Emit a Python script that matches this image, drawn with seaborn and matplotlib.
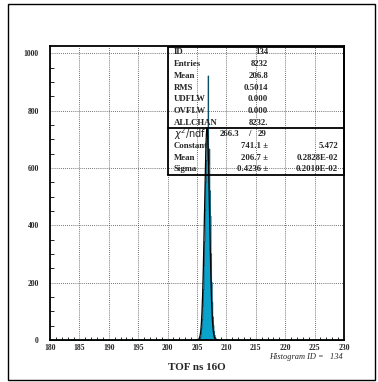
import numpy as np
import pandas as pd
import matplotlib
matplotlib.use("Agg")
import matplotlib.pyplot as plt
import seaborn as sns
from matplotlib.patches import Rectangle
from matplotlib.lines import Line2D

# ---- histogram contents (TOF, 0.1 ns bins from 180 to 230) ----
bin_lo, bin_hi, n_bins = 180.0, 230.0, 500
filled_centers = [204.6, 204.9, 205.1, 205.2,
                  205.3, 205.4, 205.5, 205.6, 205.7, 205.8, 205.9, 206.0,
                  206.1, 206.2, 206.3, 206.4, 206.5, 206.6, 206.7, 206.8,
                  206.9, 207.0, 207.1, 207.2, 207.3, 207.4, 207.5, 207.6,
                  207.7, 207.8, 207.9, 208.0, 208.1, 208.2, 208.5, 209.9, 210.1]
filled_counts = [1, 2, 2, 3,
                 4, 7, 12, 24, 43, 72, 120, 178,
                 262, 345, 455, 552, 628, 694, 706, 923,
                 615, 668, 522, 433, 302, 202, 132, 82,
                 52, 31, 18, 10, 6, 3, 2, 3, 4]

# ---- fit result and statistics ----
fit_const, fit_mean, fit_sigma = 741.1, 206.7, 0.4236
stat_labels = ["ID", "Entries", "Mean", "RMS", "UDFLW", "OVFLW", "ALLCHAN"]
stat_values = ["134", "8232", "206.8", "0.5014", "0.000", "0.000", "8232."]
fit_labels = ["Constant", "Mean", "Sigma"]
fit_values = ["741.1", "206.7", "0.4236"]
fit_errors = ["5.472", "0.2828E-02", "0.2010E-02"]
chi2_text, ndf_text = "266.3", "29"

x_ticks = list(range(180, 231, 5))
y_ticks = list(range(0, 1001, 200))

sns.set_style("white")
plt.rcParams["font.family"] = ["Liberation Serif", "DejaVu Serif"]

W, H = 378, 382
fig = plt.figure(figsize=(W / 100, H / 100), dpi=100)

def fx(px):
    return px / W

def fy(py):
    return 1 - py / H

ax_l, ax_r, ax_t, ax_b = 50, 344, 46, 340
ax = fig.add_axes([fx(ax_l), fy(ax_b), fx(ax_r - ax_l), (ax_b - ax_t) / H])

df = pd.DataFrame({"tof": filled_centers, "n": filled_counts})
sns.histplot(data=df, x="tof", weights="n", bins=n_bins,
             binrange=(bin_lo, bin_hi), element="step",
             fill=True, color="#0aa3cc", alpha=1.0, edgecolor="#0a4f66",
             linewidth=0.6, ax=ax, zorder=2)

# gaussian fit curve
xf = np.linspace(204.8, 208.6, 400)
yf = fit_const * np.exp(-0.5 * ((xf - fit_mean) / fit_sigma) ** 2)
ax.plot(xf, yf, color="black", lw=0.9, zorder=3)

ax.set_xlim(bin_lo, bin_hi)
ax.set_ylim(0, 1026)
ax.set_xlabel("")
ax.set_ylabel("")

ax.set_xticks(x_ticks)
ax.set_xticks(np.arange(180, 231, 1), minor=True)
ax.set_yticks(y_ticks)
ax.set_yticks(np.arange(0, 1001, 50), minor=True)
ax.set_xticklabels([str(v) for v in x_ticks], fontsize=5.5, fontweight="bold")
ax.set_yticklabels([str(v) for v in y_ticks], fontsize=5.5, fontweight="bold")
ax.tick_params(axis="x", which="major", direction="in", length=5, width=0.8,
               pad=3, color="black")
ax.tick_params(axis="x", which="minor", direction="in", length=2.5, width=0.6,
               color="black", bottom=True)
ax.tick_params(axis="y", which="major", direction="in", length=6, width=0.8,
               pad=8, color="black")
ax.tick_params(axis="y", which="minor", direction="in", length=3, width=0.6,
               color="black", left=True)
ax.grid(True, which="major", color="#444444", linestyle=(0, (1, 1.5)),
        linewidth=0.6, zorder=0)
ax.set_axisbelow(True)
for s in ax.spines.values():
    s.set_visible(True)
    s.set_color("black")
    s.set_linewidth(1.3)

# outer frame
fig.patches.append(Rectangle((fx(8), fy(380)), fx(367), (380 - 4) / H,
                             transform=fig.transFigure, fill=False,
                             edgecolor="black", lw=1.0))

# statistics box
bx_l, bx_r, bx_t, bx_mid, bx_b = 168, 344, 46.5, 128.5, 175
for pts in ([(bx_l, bx_t), (bx_l, bx_b)], [(bx_l, bx_b), (bx_r, bx_b)],
            [(bx_l, bx_mid), (bx_r, bx_mid)], [(bx_r, bx_t), (bx_r, bx_b)],
            [(bx_l, bx_t), (bx_r, bx_t)]):
    fig.lines.append(Line2D([fx(p[0]) for p in pts], [fy(p[1]) for p in pts],
                            transform=fig.transFigure, color="black", lw=1.3))

row_h = (bx_mid - bx_t) / 7
tkw = dict(fontsize=6.3, fontweight="bold", va="center", transform=fig.transFigure)
for i, (lab, val) in enumerate(zip(stat_labels, stat_values)):
    yy = fy(bx_t + row_h * (i + 0.5))
    fig.text(fx(174), yy, lab, ha="left", **tkw)
    fig.text(fx(268), yy, val, ha="right", **tkw)

row2 = (bx_b - bx_mid) / 4
yy = fy(bx_mid + row2 * 0.5)
fig.text(fx(174), yy, r"$\chi^2$/ndf", ha="left", va="center", fontsize=7,
         family=["DejaVu Sans"], transform=fig.transFigure)
fig.text(fx(239), yy, chi2_text, ha="right", **tkw)
fig.text(fx(249), yy, "/", ha="center", **tkw)
fig.text(fx(267), yy, ndf_text, ha="right", **tkw)
for i, (lab, val, err) in enumerate(zip(fit_labels, fit_values, fit_errors)):
    yy = fy(bx_mid + row2 * (i + 1.5))
    fig.text(fx(174), yy, lab, ha="left", **tkw)
    fig.text(fx(268), yy, val + " \u00b1", ha="right", **tkw)
    fig.text(fx(338), yy, err, ha="right", **tkw)

fig.text(fx(343), fy(357), "Histogram ID =   134", ha="right", va="center",
         fontsize=6, style="italic", transform=fig.transFigure)
fig.text(fx(197), fy(367), "TOF ns 16O", ha="center", va="center",
         fontsize=8, fontweight="bold", transform=fig.transFigure)

fig.savefig("out.png", dpi=100)
